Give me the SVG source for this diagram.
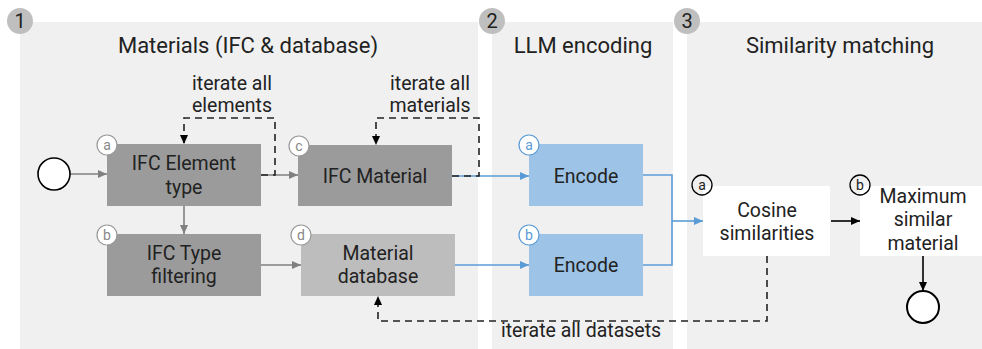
<svg xmlns="http://www.w3.org/2000/svg" width="982" height="349" viewBox="0 0 982 349">
<defs>
<style>
text{font-family:Roboto,"Liberation Sans",Arial,sans-serif;fill:#222;text-anchor:middle}
.panel{fill:#f0f0f0}
.badge{fill:#bfbfbf}
.bt{font-size:20px}
.title{font-size:22px}
.t{font-size:19.5px}
.gray{fill:#9b9b9b}
.light{fill:#bdbdbd}
.blue{fill:#9dc3e6}
.white{fill:#fff}
.lc{font-size:14px}
.g{stroke:#808080;stroke-width:1.6;fill:none}
.b{stroke:#5b9bd5;stroke-width:1.6;fill:none}
.k{stroke:#000;stroke-width:1.6;fill:none}
.d{stroke:#222;stroke-width:1.6;fill:none;stroke-dasharray:7 5}
</style>
<marker id="ag" markerWidth="10" markerHeight="10" refX="9" refY="5" orient="auto" markerUnits="userSpaceOnUse"><path d="M0,1 L9,5 L0,9 z" fill="#808080"/></marker>
<marker id="ab" markerWidth="10" markerHeight="10" refX="9" refY="5" orient="auto" markerUnits="userSpaceOnUse"><path d="M0,1 L9,5 L0,9 z" fill="#5b9bd5"/></marker>
<marker id="ak" markerWidth="10" markerHeight="10" refX="9" refY="5" orient="auto" markerUnits="userSpaceOnUse"><path d="M0,1 L9,5 L0,9 z" fill="#000"/></marker>
</defs>

<g id="panels">
<rect class="panel" x="20" y="22" width="458" height="327"/>
<rect class="panel" x="492" y="22" width="181" height="327"/>
<rect class="panel" x="687" y="22" width="295" height="327"/>
<circle class="badge" cx="20" cy="21" r="13"/><text class="bt" x="20" y="28">1</text>
<circle class="badge" cx="492" cy="21" r="13"/><text class="bt" x="492" y="28">2</text>
<circle class="badge" cx="687" cy="21" r="13"/><text class="bt" x="687" y="28">3</text>
<text class="title" x="248" y="53">Materials (IFC &amp; database)</text>
<text class="title" x="583" y="53">LLM encoding</text>
<text class="title" x="840" y="53">Similarity matching</text>
</g>

<g id="connectors">
<line class="g" x1="70" y1="174" x2="107" y2="174" marker-end="url(#ag)"/>
<line class="g" x1="261" y1="175" x2="298" y2="175" marker-end="url(#ag)"/>
<line class="g" x1="184" y1="206" x2="184" y2="234" marker-end="url(#ag)"/>
<line class="g" x1="261" y1="265" x2="301" y2="265" marker-end="url(#ag)"/>
<line class="b" x1="452" y1="176" x2="529" y2="176" marker-end="url(#ab)"/>
<line class="b" x1="455" y1="265" x2="529" y2="265" marker-end="url(#ab)"/>
<polyline class="b" points="643,175 672,175 672,265 643,265"/>
<line class="b" x1="672" y1="221" x2="703" y2="221" marker-end="url(#ab)"/>
<line class="k" x1="831" y1="221" x2="860" y2="221" marker-end="url(#ak)"/>
<line class="k" x1="923" y1="256" x2="923" y2="291" marker-end="url(#ak)"/>
<polyline class="d" points="261,175 275,175 275,118 184,118 184,144" marker-end="url(#ak)"/>
<polyline class="d" points="452,176 479,176 479,118 376,118 376,145" marker-end="url(#ak)"/>
<polyline class="d" points="767,256 767,321 378,321 378,296" marker-end="url(#ak)"/>
<text class="t" x="232" y="90">iterate all</text>
<text class="t" x="232" y="112">elements</text>
<text class="t" x="430" y="90">iterate all</text>
<text class="t" x="430" y="112">materials</text>
<text class="t" x="581" y="337">iterate all datasets</text>
</g>

<g id="start"><circle cx="54" cy="174" r="16" fill="#fff" stroke="#000" stroke-width="1.6"/></g>
<g id="end"><circle cx="923" cy="307" r="16" fill="#fff" stroke="#000" stroke-width="2"/></g>

<g id="ifc-element">
<rect class="gray" x="107" y="144" width="154" height="62"/>
<text class="t" x="184" y="170">IFC Element</text><text class="t" x="184" y="194">type</text>
<circle cx="107" cy="145" r="10" fill="#fff" stroke="#999" stroke-width="1.2"/><text class="lc" x="107" y="150" style="fill:#888">a</text>
</g>
<g id="ifc-type">
<rect class="gray" x="107" y="234" width="154" height="62"/>
<text class="t" x="184" y="260">IFC Type</text><text class="t" x="184" y="283">filtering</text>
<circle cx="107" cy="235" r="10" fill="#fff" stroke="#999" stroke-width="1.2"/><text class="lc" x="107" y="240" style="fill:#888">b</text>
</g>
<g id="ifc-material">
<rect class="gray" x="298" y="145" width="154" height="61"/>
<text class="t" x="375" y="183">IFC Material</text>
<circle cx="299" cy="146" r="10" fill="#fff" stroke="#999" stroke-width="1.2"/><text class="lc" x="299" y="151" style="fill:#888">c</text>
</g>
<g id="material-db">
<rect class="light" x="301" y="234" width="154" height="62"/>
<text class="t" x="378" y="260">Material</text><text class="t" x="378" y="283">database</text>
<circle cx="301" cy="235" r="10" fill="#fff" stroke="#999" stroke-width="1.2"/><text class="lc" x="301" y="240" style="fill:#888">d</text>
</g>
<g id="encode-a">
<rect class="blue" x="529" y="144" width="114" height="62"/>
<text class="t" x="586" y="183">Encode</text>
<circle cx="529" cy="145" r="10" fill="#fff" stroke="#5b9bd5" stroke-width="1.2"/><text class="lc" x="529" y="150" style="fill:#5b9bd5">a</text>
</g>
<g id="encode-b">
<rect class="blue" x="529" y="234" width="114" height="62"/>
<text class="t" x="586" y="272">Encode</text>
<circle cx="529" cy="235" r="10" fill="#fff" stroke="#5b9bd5" stroke-width="1.2"/><text class="lc" x="529" y="240" style="fill:#5b9bd5">b</text>
</g>
<g id="cosine">
<rect class="white" x="703" y="186" width="127" height="70"/>
<text class="t" x="767" y="217">Cosine</text><text class="t" x="767" y="240">similarities</text>
<circle cx="702" cy="185" r="10" fill="none" stroke="#000" stroke-width="1.3"/><text class="lc" x="702" y="190">a</text>
</g>
<g id="maximum">
<rect class="white" x="860" y="186" width="122" height="70"/>
<text class="t" x="923" y="203">Maximum</text><text class="t" x="923" y="226">similar</text><text class="t" x="923" y="250">material</text>
<circle cx="860" cy="185" r="10" fill="none" stroke="#000" stroke-width="1.3"/><text class="lc" x="860" y="190">b</text>
</g>
</svg>
